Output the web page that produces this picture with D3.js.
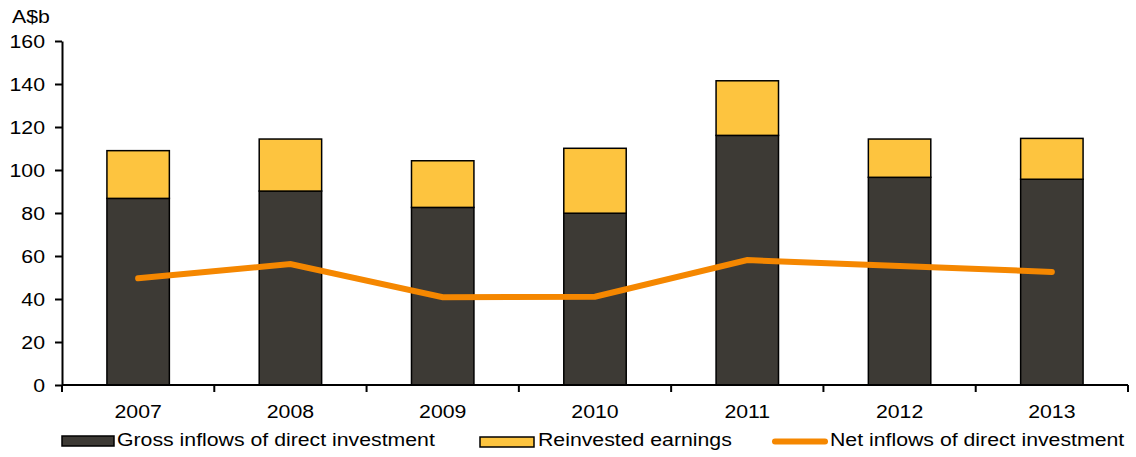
<!DOCTYPE html>
<html>
<head>
<meta charset="utf-8">
<script src="https://cdn.jsdelivr.net/npm/d3@7"></script>
<style>
  html, body { margin: 0; padding: 0; background: #fff; }
  svg { display: block; font-family: "Liberation Sans", Arial, sans-serif; }
</style>
</head>
<body>
<svg id="chart" width="1136" height="457"></svg>
<script>
// Foreign direct investment into Australia, A$ billion
const years = ["2007", "2008", "2009", "2010", "2011", "2012", "2013"];
const grossInflows = [86.8, 90.2, 82.6, 79.9, 116.1, 96.6, 95.7];
const reinvestedEarnings = [22.2, 24.2, 21.7, 30.2, 25.4, 17.8, 19.0];
const netInflows = [49.6, 56.3, 40.8, 41.1, 58.1, 55.4, 52.6];
const yTicks = [0, 20, 40, 60, 80, 100, 120, 140, 160];

const seriesNames = ["Gross inflows of direct investment", "Reinvested earnings", "Net inflows of direct investment"];
const colors = { gross: "#3d3a35", reinvested: "#fdc43f", net: "#f58700" };

const FONT_SIZE = 18.5;
const STRETCH = 1.15; // slightly wide lettering

const svg = d3.select("#chart");
const margin = { left: 62, right: 8, top: 41, bottom: 72 };
const W = 1136, H = 457;

const x = d3.scaleBand().domain(years).range([margin.left, W - margin.right]).paddingInner(0.59).paddingOuter(0.295);
const xb = d3.scaleBand().domain(years).range([margin.left, W - margin.right]);
const y = d3.scaleLinear().domain([0, 160]).range([H - margin.bottom, margin.top]);

const rows = years.map((yr, i) => ({ year: yr, gross: grossInflows[i], reinv: reinvestedEarnings[i], net: netInflows[i] }));

// place a text label at (px, py) with the wide lettering
function label(sel, px, py) {
  return sel.attr("x", 0).attr("y", 0)
    .attr("font-size", FONT_SIZE)
    .attr("fill", "#000")
    .attr("transform", (d, i) => {
      const X = typeof px === "function" ? px(d, i) : px;
      const Y = typeof py === "function" ? py(d, i) : py;
      return `translate(${X},${Y}) scale(${STRETCH},1)`;
    });
}

// stacked bars
const g = svg.append("g");
g.selectAll("rect.gross").data(rows).join("rect")
  .attr("class", "gross")
  .attr("x", d => x(d.year))
  .attr("width", x.bandwidth())
  .attr("y", d => y(d.gross))
  .attr("height", d => y(0) - y(d.gross))
  .attr("fill", colors.gross)
  .attr("stroke", "#000").attr("stroke-width", 1.5);

g.selectAll("rect.reinv").data(rows).join("rect")
  .attr("class", "reinv")
  .attr("x", d => x(d.year))
  .attr("width", x.bandwidth())
  .attr("y", d => y(d.gross + d.reinv))
  .attr("height", d => y(d.gross) - y(d.gross + d.reinv))
  .attr("fill", colors.reinvested)
  .attr("stroke", "#000").attr("stroke-width", 1.5);

// net inflows line
const line = d3.line().x(d => xb(d.year) + xb.bandwidth() / 2).y(d => y(d.net));
svg.append("path").datum(rows)
  .attr("d", line)
  .attr("fill", "none")
  .attr("stroke", colors.net)
  .attr("stroke-width", 6)
  .attr("stroke-linecap", "round")
  .attr("stroke-linejoin", "miter");

// y axis
const yAxis = d3.axisLeft(y).tickValues(yTicks).tickSize(7).tickSizeOuter(0).tickFormat(() => "");
const ya = svg.append("g").attr("transform", `translate(${margin.left},0)`).call(yAxis);
ya.select(".domain").attr("stroke", "#000").attr("stroke-width", 2);
ya.selectAll(".tick line").attr("stroke", "#000").attr("stroke-width", 2);
ya.selectAll(".tick").append("text")
  .attr("text-anchor", "end")
  .attr("dominant-baseline", "central")
  .call(label, -17, 0)
  .text(d => d);

// x axis, ticks at category boundaries
const xa = svg.append("g").attr("transform", `translate(0,${y(0)})`);
xa.append("line").attr("x1", margin.left).attr("x2", W - margin.right).attr("stroke", "#000").attr("stroke-width", 2);
const bounds = years.map(yr => xb(yr)).concat([xb(years[years.length - 1]) + xb.bandwidth()]);
xa.selectAll("line.tk").data(bounds).join("line")
  .attr("class", "tk")
  .attr("x1", d => d).attr("x2", d => d).attr("y1", 0).attr("y2", 7)
  .attr("stroke", "#000").attr("stroke-width", 2);
xa.selectAll("text").data(years).join("text")
  .attr("text-anchor", "middle")
  .call(label, d => xb(d) + xb.bandwidth() / 2, 33)
  .text(d => d);

// unit label
svg.append("text").call(label, 12, 23).text("A$b");

// legend
const leg = svg.append("g");
leg.append("rect").attr("x", 62).attr("y", 436).attr("width", 52).attr("height", 10)
  .attr("fill", colors.gross).attr("stroke", "#000").attr("stroke-width", 1.5);
leg.append("text").call(label, 117, 446).text(seriesNames[0]);
leg.append("rect").attr("x", 480).attr("y", 437).attr("width", 54).attr("height", 10)
  .attr("fill", colors.reinvested).attr("stroke", "#000").attr("stroke-width", 1.5);
leg.append("text").call(label, 538, 446).text(seriesNames[1]);
leg.append("line").attr("x1", 775).attr("x2", 825).attr("y1", 441.5).attr("y2", 441.5)
  .attr("stroke", colors.net).attr("stroke-width", 6).attr("stroke-linecap", "round");
leg.append("text").call(label, 830, 446).text(seriesNames[2]);
</script>
</body>
</html>
